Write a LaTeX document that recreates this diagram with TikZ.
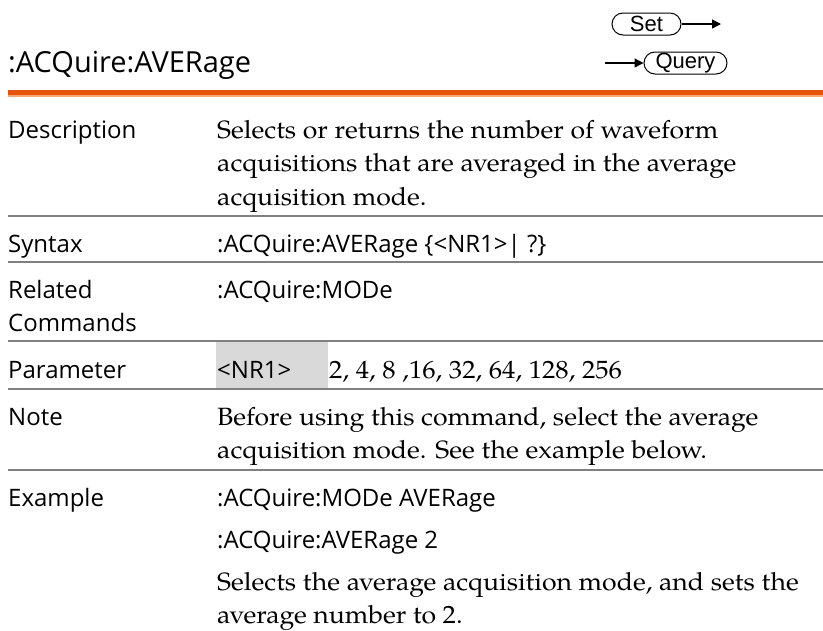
\documentclass[tikz,border=0pt]{standalone}
\usepackage{fontspec}
\setmainfont{TeX Gyre Pagella}[FakeStretch=1.065]
\newfontfamily\sansf{Open Sans}
\newfontfamily\arialf{Liberation Sans}
\usetikzlibrary{arrows.meta}
\definecolor{orangeA}{HTML}{E8540C}
\definecolor{orangeB}{HTML}{F5A878}
\definecolor{rulegray}{HTML}{808080}
\definecolor{parbg}{HTML}{D9D9D9}
\begin{document}
\begin{tikzpicture}[x=1pt,y=-1pt,
  lbl/.style={anchor=base west,inner sep=0pt,font=\sansf\fontsize{24}{28}\selectfont},
  body/.style={anchor=base west,inner sep=0pt,font=\fontsize{25}{30}\selectfont},
  titl/.style={anchor=base west,inner sep=0pt,font=\sansf\fontsize{29}{34}\selectfont},
  sep/.style={draw=rulegray,line width=1.7pt},
  btn/.style={draw,line width=1pt,rounded corners=11pt,minimum height=22pt,inner sep=0pt,font=\arialf\fontsize{22}{22}\selectfont},
  arr/.style={line width=1.4pt,-{Triangle[length=9pt,width=9pt]}}]
\path[use as bounding box] (0,0) rectangle (823,630);
% buttons
\node[btn,minimum width=69pt] (set) at (646.5,24) {Set};
\coordinate (setend) at (721,24);
\draw[arr] (set.east) -- (setend);
\node[btn,minimum width=83pt] (query) at (685.5,63) {Query};
\coordinate (qstart) at (605,63);
\draw[arr] (qstart) -- (query.west);
% title
\node[titl] (title) at (8,72) {:ACQuire:AVERage};
\fill[orangeA] (8,90) rectangle (823,94.5);
\fill[orangeB] (8,94.5) rectangle (823,96.5);
% separators
\coordinate (l1) at (8,216); \coordinate (r1) at (823,216);
\coordinate (l2) at (8,262); \coordinate (r2) at (823,262);
\coordinate (l3) at (8,341); \coordinate (r3) at (823,341);
\coordinate (l4) at (8,389); \coordinate (r4) at (823,389);
\coordinate (l5) at (8,470); \coordinate (r5) at (823,470);
\draw[sep] (l1) -- (r1);
\draw[sep] (l2) -- (r2);
\draw[sep] (l3) -- (r3);
\draw[sep] (l4) -- (r4);
\draw[sep] (l5) -- (r5);
% parameter box
\node[fill=parbg,minimum width=112pt,minimum height=46pt,inner sep=0pt,anchor=north west] (nrbox) at (216,342) {};
% labels
\node[lbl] (ldesc) at (8,138) {Description};
\node[lbl] (lsyn) at (8,252) {Syntax};
\node[lbl] (lrel1) at (8,298) {Related};
\node[lbl] (lrel2) at (8,331) {Commands};
\node[lbl] (lpar) at (8,378) {Parameter};
\node[lbl] (lnote) at (8,425) {Note};
\node[lbl] (lex) at (8,506) {Example};
% right column
\node[body] (d1) at (217,138) {Selects or returns the number of waveform};
\node[body] (d2) at (217,171.5) {acquisitions that are averaged in the average};
\node[body] (d3) at (217,205) {acquisition mode.};
\node[lbl] (syn) at (217,252) {:ACQuire:AVERage \{<NR1>| ?\}};
\node[lbl] (rel) at (217,298) {:ACQuire:MODe};
\node[lbl] (nr) at (217,378) {<NR1>};
\node[body] (vals) at (329,378) {2, 4, 8 ,16, 32, 64, 128, 256};
\node[body] (n1) at (217,425) {Before using this command, select the average};
\node[body] (n2) at (217,458.5) {acquisition mode. See the example below.};
\node[lbl] (e1) at (217,506) {:ACQuire:MODe AVERage};
\node[lbl] (e2) at (217,548) {:ACQuire:AVERage 2};
\node[body] (e3) at (217,590) {Selects the average acquisition mode, and sets the};
\node[body] (e4) at (217,623.5) {average number to 2.};
\end{tikzpicture}
\end{document}
